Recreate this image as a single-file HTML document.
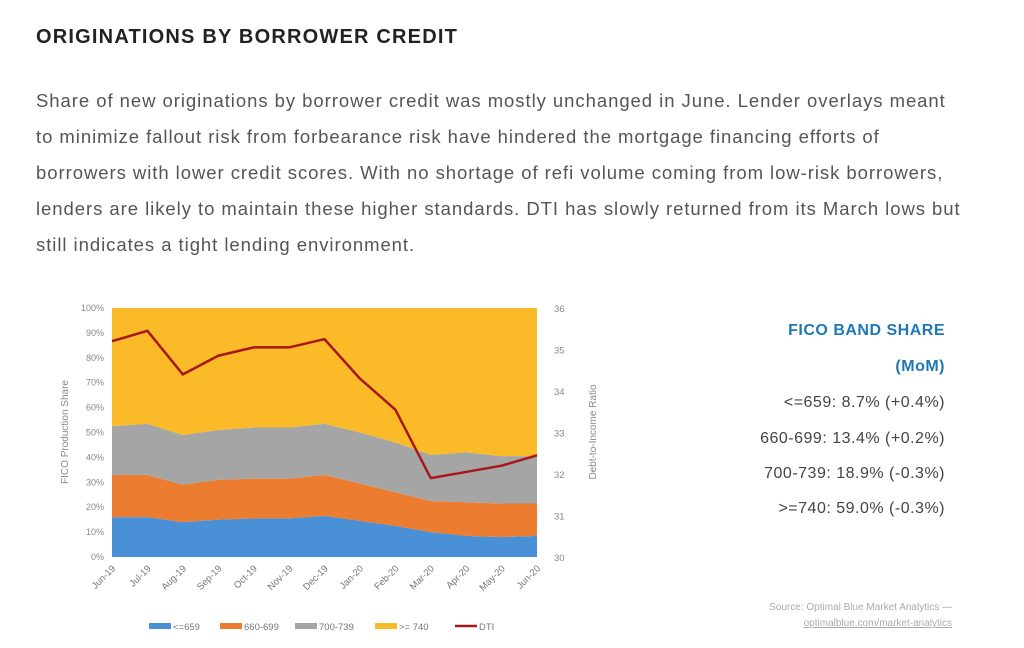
<!DOCTYPE html>
<html><head><meta charset="utf-8"><style>
body{margin:0;width:1024px;height:648px;background:#fff;font-family:"Liberation Sans",sans-serif;position:relative;overflow:hidden}
#title{position:absolute;left:36px;top:26px;font-size:20px;font-weight:bold;color:#222;letter-spacing:1.2px}
#para{position:absolute;left:36px;top:83px;font-size:18.5px;line-height:36px;color:#555;white-space:nowrap;letter-spacing:0.95px}
.side{position:absolute;right:79px;text-align:right;font-size:16px;color:#444;white-space:nowrap;letter-spacing:0.5px}
.blue{color:#1f78b4;font-weight:bold}
#src{position:absolute;right:72px;top:600px;text-align:right;font-size:10px;color:#aaa;line-height:16px}
svg{position:absolute;left:0;top:0}
</style></head><body>
<div id="title">ORIGINATIONS BY BORROWER CREDIT</div>
<div id="para">Share of new originations by borrower credit was mostly unchanged in June. Lender overlays meant<br>to minimize fallout risk from forbearance risk have hindered the mortgage financing efforts of<br>borrowers with lower credit scores. With no shortage of refi volume coming from low-risk borrowers,<br>lenders are likely to maintain these higher standards. DTI has slowly returned from its March lows but<br>still indicates a tight lending environment.</div>
<div class="side blue" style="top:322px">FICO BAND SHARE</div>
<div class="side blue" style="top:358px">(MoM)</div>
<div class="side" style="top:394px">&lt;=659: 8.7% (+0.4%)</div>
<div class="side" style="top:430px">660-699: 13.4% (+0.2%)</div>
<div class="side" style="top:465px">700-739: 18.9% (-0.3%)</div>
<div class="side" style="top:500px">&gt;=740: 59.0% (-0.3%)</div>
<div id="src">Source: Optimal Blue Market Analytics —<br><u>optimalblue.com/market-analytics</u></div>
<svg id="chart" width="1024" height="648"></svg>
<script>
const categories=["Jun-19","Jul-19","Aug-19","Sep-19","Oct-19","Nov-19","Dec-19","Jan-20","Feb-20","Mar-20","Apr-20","May-20","Jun-20"];
const band659=[16,16,14,15,15.5,15.5,16.5,14.5,12.5,10,8.5,8,8.5];
const band660=[17,17,15,16,16,16,16.5,15,13.5,12.5,13.5,13.5,13];
const band700=[19.5,20.5,20,20,20.5,20.5,20.5,20.5,20,18.5,20,19,19];
const band740=[47.5,46.5,51,49,48,48,46.5,50,54,59,58,59.5,59.5];
const dti=[35.2,35.45,34.4,34.85,35.05,35.05,35.25,34.3,33.55,31.9,32.05,32.2,32.45];
const leftTicks=[0,10,20,30,40,50,60,70,80,90,100];
const rightTicks=[30,31,32,33,34,35,36];
const legendLabels=["<=659","660-699","700-739",">= 740","DTI"];
const colors=["#4a90d6","#ec7c30","#a5a5a5","#fbbb28"];
const NS="http://www.w3.org/2000/svg";
const svg=document.getElementById('chart');
const X0=112,X1=537,Y0=557,Y1=308;
const x=i=>X0+(X1-X0)*i/(categories.length-1);
const yL=v=>Y0-(Y0-Y1)*v/100;
const yR=v=>Y0-(Y0-Y1)*(v-30)/6;
function el(t,a){const e=document.createElementNS(NS,t);for(const k in a)e.setAttribute(k,a[k]);svg.appendChild(e);return e;}
const series=[band659,band660,band700,band740];
let base=categories.map(()=>0);
series.forEach((s,si)=>{
  const top=base.map((b,i)=>b+s[i]);
  let pts=top.map((v,i)=>x(i)+","+yL(Math.min(v,100)));
  for(let i=categories.length-1;i>=0;i--)pts.push(x(i)+","+yL(base[i]));
  const p=el('polygon',{points:pts.join(' '),fill:colors[si]});
  
  
  base=top;
});
const line=el('polyline',{points:dti.map((v,i)=>x(i)+","+yR(v)).join(' '),fill:'none',stroke:'#a8171b','stroke-width':2.5});


leftTicks.forEach(t=>{const e=el('text',{x:X0-8,y:yL(t)+3,'text-anchor':'end','font-size':9,fill:'#888'});e.textContent=t+'%';
});
rightTicks.forEach(t=>{const e=el('text',{x:X1+17,y:yR(t)+4,'font-size':9.5,fill:'#888'});e.textContent=t;
});
categories.forEach((c,i)=>{const e=el('text',{x:x(i)+4,y:Y0+12,'text-anchor':'end','font-size':9.5,fill:'#777',transform:`rotate(-45 ${x(i)+4} ${Y0+12})`});e.textContent=c;
});
let t=el('text',{x:68,y:432,'text-anchor':'middle','font-size':10,fill:'#888',transform:'rotate(-90 68 432)'});t.textContent='FICO Production Share';

t=el('text',{x:596,y:432,'text-anchor':'middle','font-size':10,fill:'#888',transform:'rotate(-90 596 432)'});t.textContent='Debt-to-Income Ratio';

const lx=[149,220,295,375,455];
legendLabels.forEach((l,i)=>{
  if(i<4){const r=el('rect',{x:lx[i],y:623,width:22,height:6,fill:colors[i]});}
  else{const r=el('line',{x1:lx[i],y1:626,x2:lx[i]+22,y2:626,stroke:'#a8171b','stroke-width':2.5});}
  const e=el('text',{x:lx[i]+24,y:630,'font-size':9.5,fill:'#777'});e.textContent=l;
  
});
</script>
</body></html>
